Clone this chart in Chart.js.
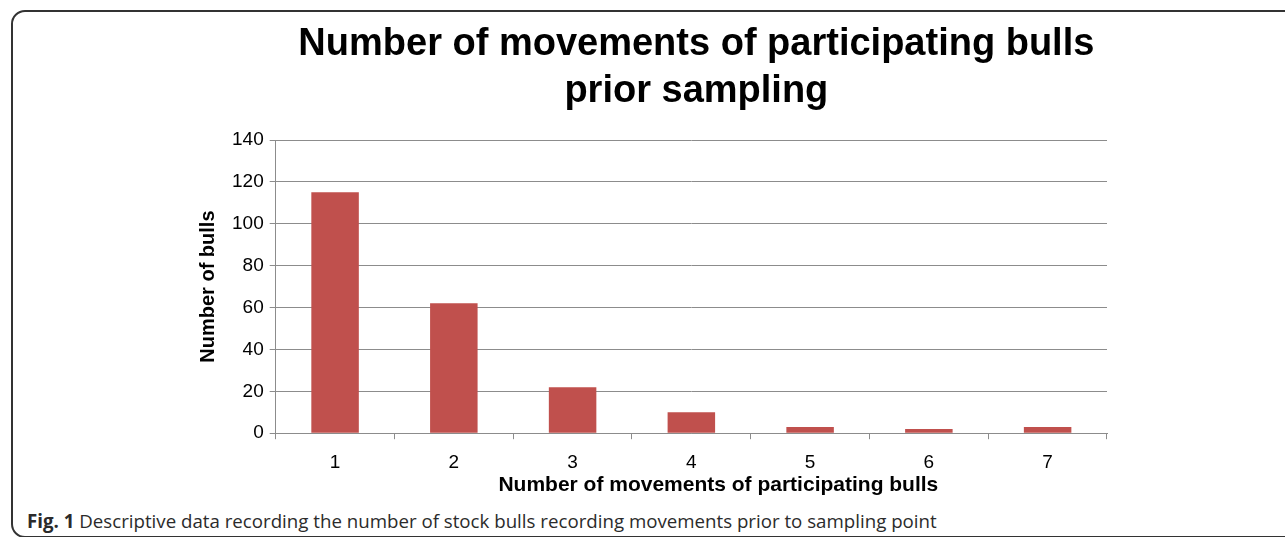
<!DOCTYPE html>
<html>
<head>
<meta charset="utf-8">
<script src="https://cdn.jsdelivr.net/npm/chart.js@4.4.1/dist/chart.umd.min.js"></script>
<style>
  html, body { margin: 0; padding: 0; background: #fff; overflow: hidden; }
  #frame {
    position: absolute; left: 11px; top: 10px;
    width: 1320px; height: 524px;
    border: 2px solid #333; border-radius: 14px;
  }
  #wrap { position: absolute; left: 0; top: 0; width: 1285px; height: 505px; }
  #caption {
    position: absolute; left: 27px; top: 508px;
    font-family: "Open Sans", sans-serif; font-size: 18.7px; color: #2b2b2b;
    white-space: nowrap;
  }
  #caption b { color: #2b2b2b; }
</style>
</head>
<body>
<div id="frame"></div>
<div id="wrap"><canvas id="chartMovements" width="1285" height="505"></canvas></div>
<div id="caption"><b>Fig. 1</b> Descriptive data recording the number of stock bulls recording movements prior to sampling point</div>
<script>
    const categories = ['1', '2', '3', '4', '5', '6', '7'];
    const bullCounts = [115, 62, 22, 10, 3, 2, 3];
    const titleLines = ['Number of movements of participating bulls', 'prior sampling'];
    const xTitle = 'Number of movements of participating bulls';
    const yTitle = 'Number of bulls';

    const gridGrey = '#8c8c8c';

    // figure title + x axis title drawn relative to the plot area
    const textPlugin = {
        id: 'textPlugin',
        afterDraw(chart) {
            const ctx = chart.ctx;
            const area = chart.chartArea;
            const mid = (area.left + area.right) / 2;
            ctx.save();
            ctx.fillStyle = '#000';
            ctx.textAlign = 'center';
            ctx.textBaseline = 'alphabetic';
            ctx.font = 'bold 38px "Liberation Sans", Arial, sans-serif';
            ctx.fillText(titleLines[0], mid + 5, 55);
            ctx.fillText(titleLines[1], mid + 5, 102);
            ctx.font = 'bold 21px "Liberation Sans", Arial, sans-serif';
            ctx.fillText(xTitle, mid + 27, area.bottom + 58);
            ctx.restore();
        }
    };

    new Chart(document.getElementById('chartMovements'), {
        type: 'bar',
        data: {
            labels: categories,
            datasets: [{
                label: 'Number of bulls',
                data: bullCounts,
                backgroundColor: '#c0504d',
                borderWidth: 0,
                categoryPercentage: 1.0,
                barPercentage: 0.4
            }]
        },
        options: {
            responsive: false,
            animation: false,
            layout: { padding: { top: 140, right: 178, left: 196, bottom: 19 } },
            scales: {
                x: {
                    grid: {
                        display: true,
                        drawOnChartArea: false,
                        drawTicks: true,
                        tickLength: 6,
                        color: gridGrey,
                        offset: true
                    },
                    border: { display: true, color: gridGrey, width: 1 },
                    ticks: {
                        color: '#000',
                        padding: 12,
                        font: { family: '"Liberation Sans", Arial, sans-serif', size: 19 }
                    }
                },
                y: {
                    min: 0,
                    max: 140,
                    grid: { color: gridGrey, tickLength: 6, drawTicks: true },
                    border: { display: true, color: gridGrey, width: 1 },
                    ticks: {
                        stepSize: 20,
                        color: '#000',
                        padding: 6,
                        font: { family: '"Liberation Sans", Arial, sans-serif', size: 19 }
                    },
                    title: {
                        display: true,
                        text: yTitle,
                        color: '#000',
                        padding: { top: 0, bottom: 6 },
                        font: { family: '"Liberation Sans", Arial, sans-serif', size: 20, weight: 'bold' }
                    }
                }
            },
            plugins: {
                legend: { display: false },
                tooltip: { enabled: false }
            }
        },
        plugins: [textPlugin]
    });
</script>
</body>
</html>
